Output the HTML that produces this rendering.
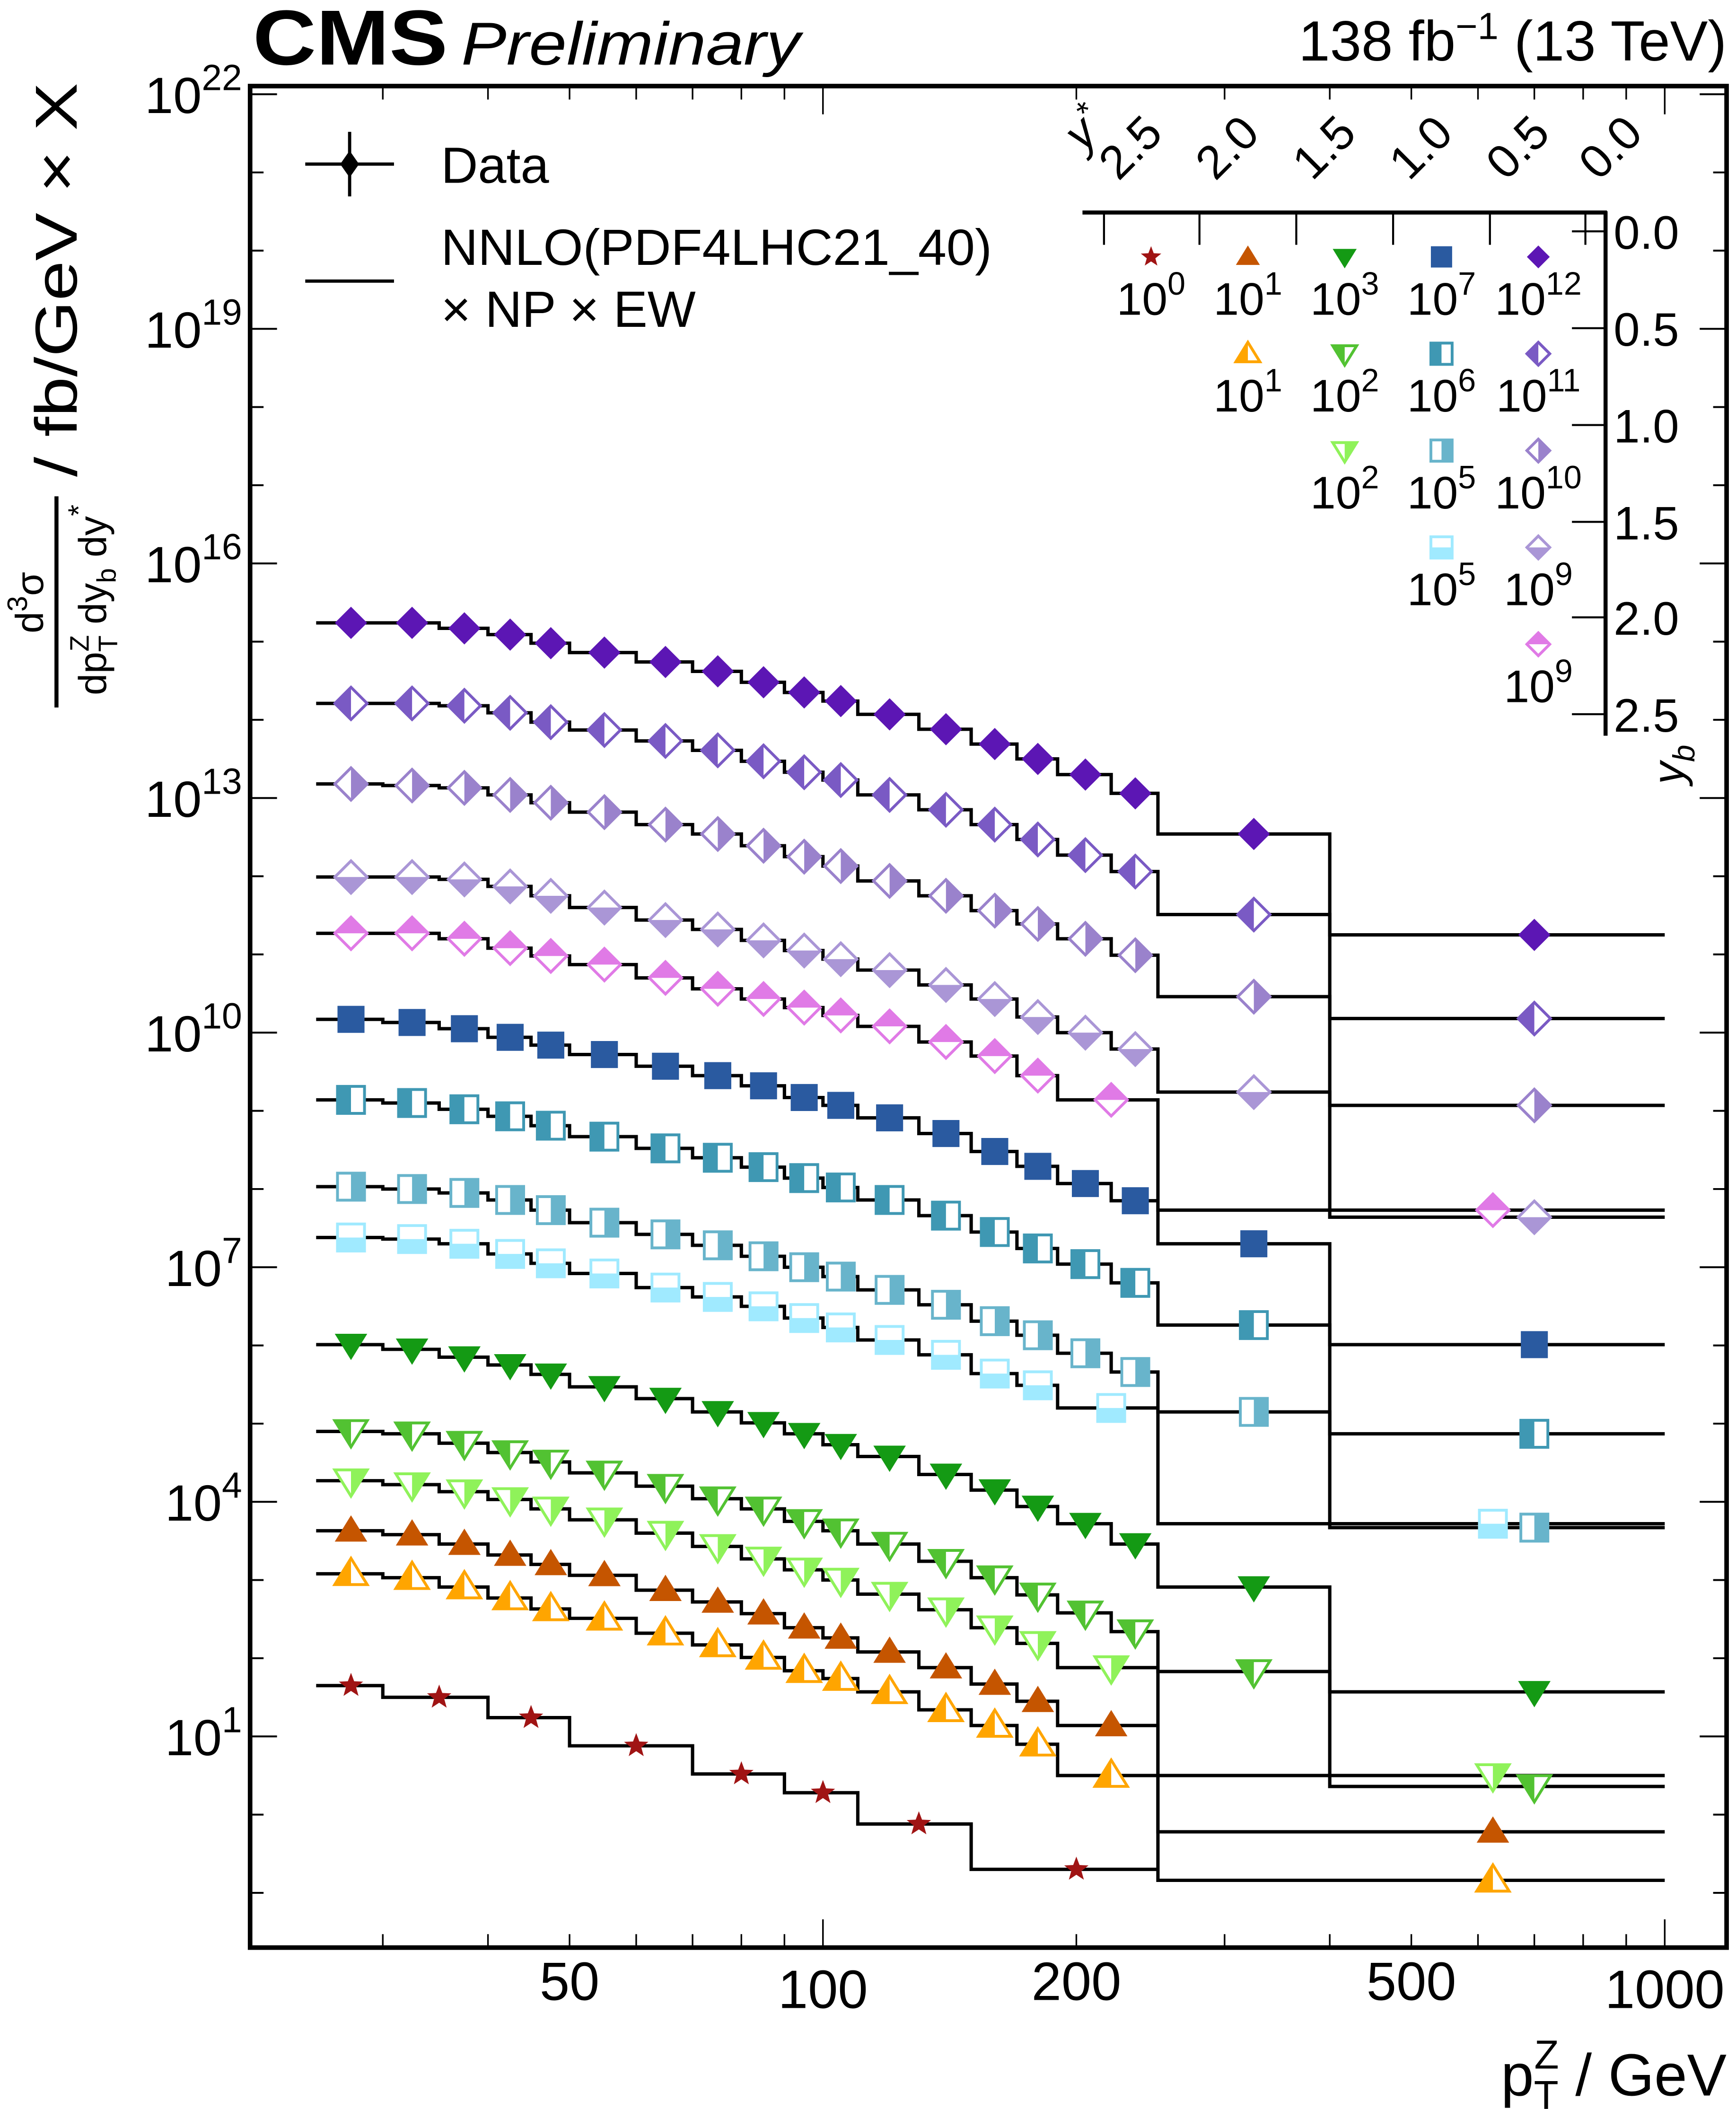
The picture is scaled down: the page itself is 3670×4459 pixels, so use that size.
<!DOCTYPE html>
<html><head><meta charset="utf-8"><title>CMS Z pT triple differential</title>
<style>html,body{margin:0;padding:0;background:#fff}svg{display:block}text{font-family:"Liberation Sans",sans-serif;fill:#000}</style>
</head><body>
<svg id="chart" xmlns="http://www.w3.org/2000/svg" width="3670" height="4459" viewBox="0 0 1291 1568" preserveAspectRatio="none">
<rect x="0" y="0" width="1291" height="1568" fill="#fff"/>
<text x="188" y="48" font-size="58" font-weight="bold" textLength="145" lengthAdjust="spacingAndGlyphs">CMS</text>
<text x="343" y="48" font-size="45" font-style="italic" textLength="252" lengthAdjust="spacingAndGlyphs">Preliminary</text>
<text x="1284" y="45" font-size="42" text-anchor="end">138 fb<tspan dy="-16" font-size="28">−1</tspan><tspan dy="16"> (13 TeV)</tspan></text>
<g id="plot"></g>
<g id="axes"></g>
<g>
 <text transform="translate(57,208) rotate(-90)" font-size="44" text-anchor="middle" textLength="293" lengthAdjust="spacingAndGlyphs">/ fb/GeV  × X</text>
 <text transform="translate(32,448) rotate(-90)" font-size="29" text-anchor="middle">d<tspan dy="-12" font-size="21">3</tspan><tspan dy="12">σ</tspan></text>
 <rect x="40.5" y="369" width="3" height="157" fill="#000"/>
 <text transform="translate(79,446) rotate(-90)" font-size="29" text-anchor="middle">dp<tspan dy="8" font-size="20">T</tspan><tspan dx="-12" dy="-21" font-size="20">Z</tspan><tspan dy="13"> dy</tspan><tspan dy="7" font-size="20">b</tspan><tspan dy="-7"> dy</tspan><tspan dy="-13" font-size="22">*</tspan></text>
</g>
<text x="1284" y="1558" font-size="44" text-anchor="end">p<tspan dy="10" font-size="30">T</tspan><tspan dx="-18" dy="-30" font-size="30">Z</tspan><tspan dy="20"> / GeV</tspan></text>
<g id="legend">
 <line x1="227" y1="122" x2="293" y2="122" stroke="#000" stroke-width="2.4"/>
 <line x1="260" y1="98" x2="260" y2="146" stroke="#000" stroke-width="2.4"/>
 <polygon points="260,112 267,122 260,132 253,122" fill="#000"/>
 <text x="328" y="136" font-size="38">Data</text>
 <line x1="227" y1="209" x2="293" y2="209" stroke="#000" stroke-width="2.4"/>
 <text x="328" y="197" font-size="38">NNLO(PDF4LHC21_40)</text>
 <text x="328" y="243" font-size="38">× NP × EW</text>
</g>
<g id="grid"></g>
</svg>
<script>
// ---- data ----
const edges19=[25,30,35,40,45,50,60,70,80,90,100,110,130,150,170,190,220,250,400,1000];
const edges17=[25,30,35,40,45,50,60,70,80,90,100,110,130,150,170,190,250,1000];
const edgesStar=[25,30,40,50,70,90,110,150,250];
const logA=[15.24,15.24,15.17,15.09,14.98,14.86,14.74,14.62,14.48,14.35,14.24,14.07,13.88,13.69,13.50,13.30,13.06,12.54,11.25];
const logB=[14.21,14.21,14.18,14.09,13.97,13.87,13.73,13.61,13.47,13.33,13.23,13.04,12.85,12.66,12.47,12.27,12.06,11.51,10.18];
const logC=[13.18,13.16,13.13,13.04,12.94,12.82,12.66,12.54,12.39,12.25,12.13,11.94,11.75,11.56,11.39,11.20,10.99,10.46,9.07];
const logD=[11.99,11.99,11.96,11.87,11.75,11.60,11.44,11.32,11.18,11.05,10.94,10.80,10.61,10.43,10.20,10.00,9.79,9.24,7.64];
const logE=[11.27,11.27,11.20,11.08,10.98,10.87,10.70,10.56,10.43,10.32,10.22,10.08,9.88,9.70,9.45,9.14,7.73];
const logF=[10.17,10.13,10.05,9.94,9.84,9.72,9.57,9.45,9.32,9.17,9.07,8.91,8.71,8.48,8.29,8.07,7.85,7.30,6.01];
const logG=[9.14,9.10,9.02,8.93,8.81,8.67,8.52,8.40,8.28,8.14,8.02,7.86,7.66,7.45,7.24,7.04,6.80,6.26,4.87];
const logH=[8.03,8.00,7.95,7.86,7.73,7.57,7.42,7.28,7.14,7.00,6.88,6.71,6.52,6.31,6.13,5.90,5.66,5.15,3.67];
const logI=[7.38,7.36,7.30,7.17,7.05,6.92,6.74,6.62,6.50,6.35,6.23,6.07,5.88,5.64,5.49,5.20,3.72];
const logJ=[6.01,5.95,5.85,5.75,5.63,5.47,5.32,5.15,5.01,4.87,4.73,4.58,4.35,4.15,3.94,3.72,3.46,2.91,1.57];
const logK=[4.90,4.87,4.75,4.63,4.51,4.37,4.20,4.04,3.91,3.75,3.63,3.46,3.24,3.03,2.81,2.58,2.34,1.83,0.36];
const logL=[4.27,4.22,4.13,4.03,3.91,3.77,3.60,3.43,3.27,3.13,3.00,2.82,2.62,2.39,2.19,1.88,0.50];
const logM=[3.63,3.58,3.46,3.32,3.20,3.06,2.87,2.72,2.57,2.39,2.26,2.08,1.88,1.67,1.45,1.14,-0.22];
const logN=[3.08,3.03,2.91,2.77,2.63,2.51,2.32,2.17,2.01,1.84,1.74,1.57,1.34,1.14,0.90,0.50,-0.84];
const logO=[1.65,1.50,1.24,0.88,0.52,0.28,-0.12,-0.70];
const yTickExps=[-1,0,1,2,3,4,5,6,7,8,9,10,11,12,13,14,15,16,17,18,19,20,21,22];
const yLabelExps=[1,4,7,10,13,16,19,22];
const xMinorTicks=[30,40,50,60,70,80,90,200,300,400,500,600,700,800,900];
const xMajorTicks=[100,1000];
const xLabels=[50,100,200,500,1000];
const ybLabels=["0.0","0.5","1.0","1.5","2.0","2.5"];
const ystarLabels=["2.5","2.0","1.5","1.0","0.5","0.0"];

// ---- axes functions ----
const X0=186,X1=1284,Y0=64,Y1=1448;
function xs(p){return 612+Math.log10(p/100)*626;}
function ys(l){return 1291-(l-1)*58.14;}
const NS="http://www.w3.org/2000/svg";
function mk(tag,attrs,parent){const e=document.createElementNS(NS,tag);for(const k in attrs)e.setAttribute(k,attrs[k]);parent.appendChild(e);return e;}

const series=[
 {id:'a',edges:edges19,vals:logA,shape:'dia',color:'#5c16b4',fill:'full',leg:[4,0,'12']},
 {id:'b',edges:edges19,vals:logB,shape:'dia',color:'#7a5ac4',fill:'left',leg:[4,1,'11']},
 {id:'c',edges:edges19,vals:logC,shape:'dia',color:'#9a82cc',fill:'right',leg:[4,2,'10']},
 {id:'d',edges:edges19,vals:logD,shape:'dia',color:'#aa96d6',fill:'bottom',leg:[4,3,'9']},
 {id:'e',edges:edges17,vals:logE,shape:'dia',color:'#e07ae6',fill:'top',leg:[4,4,'9']},
 {id:'f',edges:edges19,vals:logF,shape:'sq',color:'#2a5aa0',fill:'full',leg:[3,0,'7']},
 {id:'g',edges:edges19,vals:logG,shape:'sq',color:'#3f98b3',fill:'left',leg:[3,1,'6']},
 {id:'h',edges:edges19,vals:logH,shape:'sq',color:'#68b4cb',fill:'right',leg:[3,2,'5']},
 {id:'i',edges:edges17,vals:logI,shape:'sq',color:'#a0eaff',fill:'bottom',leg:[3,3,'5']},
 {id:'j',edges:edges19,vals:logJ,shape:'itri',color:'#149a14',fill:'full',leg:[2,0,'3']},
 {id:'k',edges:edges19,vals:logK,shape:'itri',color:'#52c232',fill:'left',leg:[2,1,'2']},
 {id:'l',edges:edges17,vals:logL,shape:'itri',color:'#8ff25a',fill:'right',leg:[2,2,'2']},
 {id:'m',edges:edges17,vals:logM,shape:'tri',color:'#c55500',fill:'full',leg:[1,0,'1']},
 {id:'n',edges:edges17,vals:logN,shape:'tri',color:'#ffa500',fill:'left',leg:[1,1,'1']},
 {id:'o',edges:edgesStar,vals:logO,shape:'star',color:'#a01414',fill:'full',leg:[0,0,'0']}
];

function outline(shape,cx,cy,s){
 if(shape==='dia')return [[cx-s,cy],[cx,cy-s],[cx+s,cy],[cx,cy+s]];
 if(shape==='sq')return [[cx-s*0.93,cy-s*0.93],[cx+s*0.93,cy-s*0.93],[cx+s*0.93,cy+s*0.93],[cx-s*0.93,cy+s*0.93]];
 if(shape==='tri')return [[cx,cy-s],[cx+s*1.05,cy+s*0.7],[cx-s*1.05,cy+s*0.7]];
 if(shape==='itri')return [[cx,cy+s],[cx+s*1.05,cy-s*0.7],[cx-s*1.05,cy-s*0.7]];
 const pts=[];for(let k=0;k<10;k++){const r=k%2?s*0.42:s;const a=-Math.PI/2+k*Math.PI/5;pts.push([cx+r*Math.cos(a),cy+r*Math.sin(a)]);}return pts;
}
function half(shape,fill,cx,cy,s){
 const q=s*0.93;
 if(shape==='dia'){
  if(fill==='left')return [[cx-s,cy],[cx,cy-s],[cx,cy+s]];
  if(fill==='right')return [[cx+s,cy],[cx,cy-s],[cx,cy+s]];
  if(fill==='top')return [[cx-s,cy],[cx,cy-s],[cx+s,cy]];
  return [[cx-s,cy],[cx,cy+s],[cx+s,cy]];
 }
 if(shape==='sq'){
  if(fill==='left')return [[cx-q,cy-q],[cx,cy-q],[cx,cy+q],[cx-q,cy+q]];
  if(fill==='right')return [[cx,cy-q],[cx+q,cy-q],[cx+q,cy+q],[cx,cy+q]];
  if(fill==='top')return [[cx-q,cy-q],[cx+q,cy-q],[cx+q,cy],[cx-q,cy]];
  return [[cx-q,cy],[cx+q,cy],[cx+q,cy+q],[cx-q,cy+q]];
 }
 if(shape==='tri'){
  if(fill==='left')return [[cx,cy-s],[cx,cy+s*0.7],[cx-s*1.05,cy+s*0.7]];
  return [[cx,cy-s],[cx,cy+s*0.7],[cx+s*1.05,cy+s*0.7]];
 }
 if(fill==='left')return [[cx,cy+s],[cx,cy-s*0.7],[cx-s*1.05,cy-s*0.7]];
 return [[cx,cy+s],[cx,cy-s*0.7],[cx+s*1.05,cy-s*0.7]];
}
const P=pts=>pts.map(p=>p[0].toFixed(2)+','+p[1].toFixed(2)).join(' ');
function marker(parent,sr,cx,cy,s,name){
 const g=mk('g',{},parent);
 
 
 if(sr.fill==='full'){mk('polygon',{points:P(outline(sr.shape,cx,cy,s)),fill:sr.color},g);}
 else{
  mk('polygon',{points:P(outline(sr.shape,cx,cy,s)),fill:'#fff',stroke:sr.color,'stroke-width':2.1},g);
  mk('polygon',{points:P(half(sr.shape,sr.fill,cx,cy,s)),fill:sr.color},g);
 }
}

const plot=document.getElementById('plot');
const sizeOf={dia:12,sq:10.8,tri:11.5,itri:11.5,star:9.5};
series.forEach(sr=>{
 let d='';
 sr.vals.forEach((v,i)=>{const x0=xs(sr.edges[i]),x1=xs(sr.edges[i+1]),y=ys(v);d+=(i===0?'M'+x0.toFixed(2)+','+y.toFixed(2):'V'+y.toFixed(2))+'H'+x1.toFixed(2);});
 const path=mk('path',{d:d,fill:'none',stroke:'#000','stroke-width':2.5},plot);
 
 
});
series.forEach(sr=>{
 sr.vals.forEach((v,i)=>{const c=(sr.edges[i]+sr.edges[i+1])/2;marker(plot,sr,xs(c),ys(v),sizeOf[sr.shape],'data-point-'+sr.id+'-'+i);});
});

// ---- axes ----
const ax=document.getElementById('axes');
yTickExps.forEach(e=>{
 const y=ys(e);if(y<Y0||y>Y1)return;
 const L=yLabelExps.includes(e)?20:10;
 const t1=mk('line',{x1:X0,y1:y,x2:X0+L,y2:y,stroke:'#000','stroke-width':1.4},ax);
 
 
 const t2=mk('line',{x1:X1-L,y1:y,x2:X1,y2:y,stroke:'#000','stroke-width':1.4},ax);
 
 
});
yLabelExps.forEach(e=>{
 const y=ys(e);
 const t=mk('text',{x:180,y:y+14,'font-size':38,'text-anchor':'end'},ax);
 
 
 t.appendChild(document.createTextNode('10'));
 const s=mk('tspan',{dy:-17,'font-size':27},t);s.textContent=String(e);
});
function xt(p,L){
 const x=xs(p);
 const a=mk('line',{x1:x,y1:Y1,x2:x,y2:Y1-L,stroke:'#000','stroke-width':1.2},ax);
 
 
 const b=mk('line',{x1:x,y1:Y0,x2:x,y2:Y0+L,stroke:'#000','stroke-width':1.2},ax);
 
 
}
xMinorTicks.forEach(p=>xt(p,10));
xMajorTicks.forEach(p=>xt(p,21));
xLabels.forEach(p=>{
 const low=(p===100||p===1000);
 const t=mk('text',{x:xs(p),y:low?1493:1487,'font-size':40,'text-anchor':'middle'},ax);
 
 
 t.textContent=String(p);
});
const fr=mk('rect',{x:X0,y:Y0,width:X1-X0,height:Y1-Y0,fill:'none',stroke:'#000','stroke-width':3.4},ax);



// ---- bin legend grid ----
const grid=document.getElementById('grid');
const colX=[856,928,1000,1072,1144];
const rowY=[191,263,335,407,479];
const ybY=[172,244,316,388,459,531];
const ystX=[849,921,993,1065,1137,1206];
const colTickX=[821,892,964,1036,1108,1179];
const hl=mk('line',{x1:805,y1:158,x2:1195,y2:158,stroke:'#000','stroke-width':3},grid);


const vl=mk('line',{x1:1194,y1:157,x2:1194,y2:547,stroke:'#000','stroke-width':3},grid);


colTickX.forEach(x=>{const l=mk('line',{x1:x,y1:158,x2:x,y2:182,stroke:'#000','stroke-width':1.5},grid);
 
 });
ybY.forEach((y,i)=>{
 const l=mk('line',{x1:1169,y1:y,x2:1194,y2:y,stroke:'#000','stroke-width':1.5},grid);
 
 
 const t=mk('text',{x:1200,y:y+13,'font-size':35},grid);
 
 
 t.textContent=ybLabels[i];
});
ystX.forEach((x,i)=>{
 const t=mk('text',{transform:'translate('+x+',118) rotate(-45)','font-size':35,'text-anchor':'middle'},grid);
 
 
 t.textContent=ystarLabels[i];
});
const ysl=mk('text',{transform:'translate(815,104) rotate(-45)','font-size':35,'font-style':'italic','text-anchor':'middle'},grid);


ysl.appendChild(document.createTextNode('y'));
const yss=mk('tspan',{dy:-12,'font-size':24},ysl);yss.textContent='*';
const ybl=mk('text',{transform:'translate(1252,583) rotate(-90)','font-size':33,'font-style':'italic'},grid);


ybl.appendChild(document.createTextNode('y'));
const ybs=mk('tspan',{dy:8,'font-size':23},ybl);ybs.textContent='b';
series.forEach(sr=>{
 const c=sr.leg[0],r=sr.leg[1];
 const cx=colX[c],cy=rowY[r];
 marker(grid,sr,cx,cy,sr.shape==='star'?8:8.5,'bin-legend-marker-'+sr.id);
 const t=mk('text',{x:cx,y:cy+43,'font-size':34,'text-anchor':'middle'},grid);
 
 
 t.appendChild(document.createTextNode('10'));
 const s=mk('tspan',{dy:-15,'font-size':24},t);s.textContent=sr.leg[2];
});
</script>
</body></html>
